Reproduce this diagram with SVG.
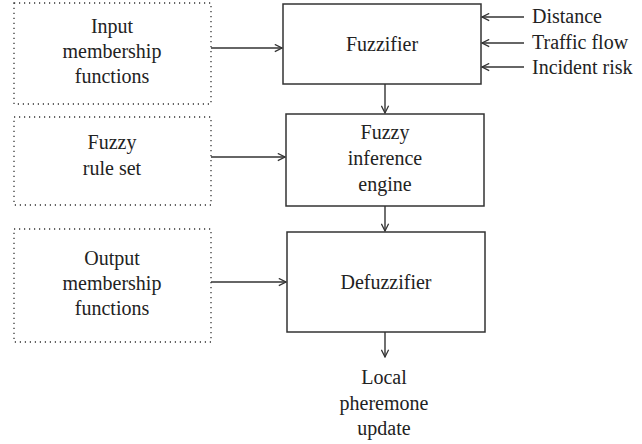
<svg xmlns="http://www.w3.org/2000/svg" width="642" height="444" viewBox="0 0 642 444" font-family="'Liberation Serif', 'DejaVu Serif', serif">
<defs>
<style>
text{font-family:'Liberation Serif','DejaVu Serif',serif;font-size:20px;fill:#222;text-anchor:middle}
.side{text-anchor:start}
.dot{fill:none;stroke:#333;stroke-width:1.3;stroke-dasharray:1.2 3.8}
.box{fill:#fff;stroke:#333;stroke-width:1.5}
.conn line{stroke:#333;stroke-width:1.4;fill:none}
</style>
<marker id="ah" viewBox="0 0 10 10" refX="9" refY="5" markerWidth="9" markerHeight="9" markerUnits="userSpaceOnUse" orient="auto">
<path d="M1,1 L9,5 L1,9" fill="none" stroke="#333" stroke-width="1.4"/>
</marker>
</defs>
<rect width="642" height="444" fill="#fff"/>
<g id="input-mf">
<rect class="dot" x="14" y="3" width="197" height="101"/>
<text x="112" y="33">Input</text>
<text x="112" y="58">membership</text>
<text x="112" y="83">functions</text>
</g>
<g id="rule-set">
<rect class="dot" x="14" y="117" width="197" height="88"/>
<text x="112" y="149">Fuzzy</text>
<text x="112" y="175">rule set</text>
</g>
<g id="output-mf">
<rect class="dot" x="14" y="229" width="197" height="113"/>
<text x="112" y="265">Output</text>
<text x="112" y="290">membership</text>
<text x="112" y="315">functions</text>
</g>
<g id="fuzzifier">
<rect class="box" x="283" y="4" width="198" height="80"/>
<text x="382" y="51">Fuzzifier</text>
</g>
<g id="inference">
<rect class="box" x="286" y="114" width="198" height="92"/>
<text x="385" y="139">Fuzzy</text>
<text x="385" y="165">inference</text>
<text x="385" y="191">engine</text>
</g>
<g id="defuzzifier">
<rect class="box" x="287" y="232" width="198" height="100"/>
<text x="386" y="289">Defuzzifier</text>
</g>
<g id="inputs">
<text class="side" x="532" y="23">Distance</text>
<text class="side" x="532" y="49">Traffic flow</text>
<text class="side" x="532" y="74">Incident risk</text>
</g>
<g id="output">
<text x="384" y="384">Local</text>
<text x="384" y="410">pheremone</text>
<text x="384" y="435">update</text>
</g>
<g class="conn" id="connectors">
<line x1="211" y1="48" x2="282" y2="48" marker-end="url(#ah)"/>
<line x1="211" y1="157" x2="285" y2="157" marker-end="url(#ah)"/>
<line x1="211" y1="282" x2="286" y2="282" marker-end="url(#ah)"/>
<line x1="385" y1="84" x2="385" y2="113" marker-end="url(#ah)"/>
<line x1="385" y1="206" x2="385" y2="231" marker-end="url(#ah)"/>
<line x1="385" y1="332" x2="385" y2="357" marker-end="url(#ah)"/>
<line x1="524" y1="17" x2="482" y2="17" marker-end="url(#ah)"/>
<line x1="524" y1="43" x2="482" y2="43" marker-end="url(#ah)"/>
<line x1="524" y1="67" x2="482" y2="67" marker-end="url(#ah)"/>
</g>
</svg>
